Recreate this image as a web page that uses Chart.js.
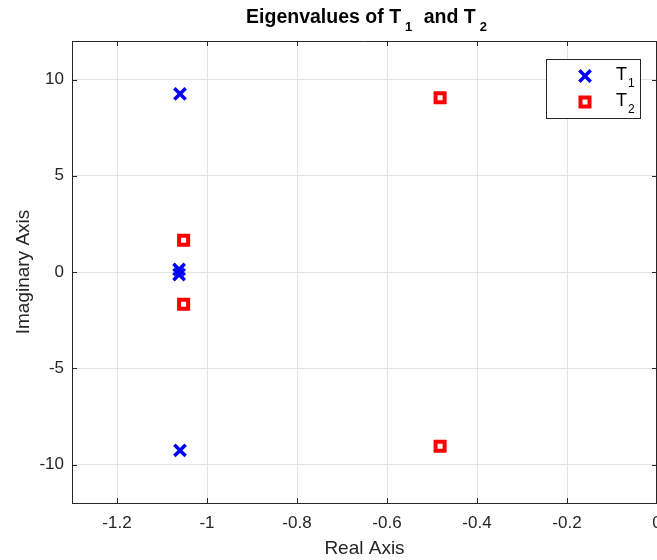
<!DOCTYPE html>
<html>
<head>
<meta charset="utf-8">
<script src="https://cdn.jsdelivr.net/npm/chart.js@4"></script>
<style>
  html, body { margin: 0; padding: 0; background: #fff; overflow: hidden; }
  #wrap { width: 680px; height: 560px; }
</style>
</head>
<body>
<div id="wrap"><canvas id="chartEig"></canvas></div>
<script>
// eigenvalues (real, imaginary)
const t1Re = [-1.06, -1.06, -1.062, -1.062];
const t1Im = [9.25, -9.27, 0.13, -0.13];
const t2Re = [-1.052, -1.052, -0.482, -0.482];
const t2Im = [1.65, -1.68, 9.05, -9.05];

const seriesNames = ['T', 'T'];
const seriesSubs = ['1', '2'];
const xTicks = [-1.2, -1, -0.8, -0.6, -0.4, -0.2, 0];
const yTicks = [-10, -5, 0, 5, 10];

const FONT = '"Liberation Sans", Arial, Helvetica, sans-serif';
const AXIS_COLOR = '#262626';

function toPoints(re, im) {
  return re.map((x, i) => ({ x: x, y: im[i] }));
}

// title, legend, box and inward ticks, MATLAB style
const matlabBox = {
  id: 'matlabBox',
  afterDraw(chart) {
    const ctx = chart.ctx;
    const a = chart.chartArea;
    const xs = chart.scales.x;
    const ys = chart.scales.y;
    ctx.save();

    // top + right border
    ctx.strokeStyle = AXIS_COLOR;
    ctx.lineWidth = 1;
    ctx.beginPath();
    ctx.moveTo(a.left, a.top + 0.5);
    ctx.lineTo(a.right, a.top + 0.5);
    ctx.moveTo(a.right - 0.5, a.top);
    ctx.lineTo(a.right - 0.5, a.bottom);
    ctx.stroke();

    // inward ticks
    const len = 5;
    ctx.beginPath();
    xTicks.forEach(v => {
      const px = Math.round(xs.getPixelForValue(v)) + 0.5;
      ctx.moveTo(px, a.bottom); ctx.lineTo(px, a.bottom - len);
      ctx.moveTo(px, a.top); ctx.lineTo(px, a.top + len);
    });
    yTicks.forEach(v => {
      const py = Math.round(ys.getPixelForValue(v)) + 0.5;
      ctx.moveTo(a.left, py); ctx.lineTo(a.left + len, py);
      ctx.moveTo(a.right, py); ctx.lineTo(a.right - len, py);
    });
    ctx.stroke();

    // title with subscripts (text, size, drop, gap after)
    const cx = (a.left + a.right) / 2 + 2;
    const parts = [
      ['Eigenvalues of T', 19.5, 0, 4],
      ['1', 13, 8, 6],
      [' and T', 19.5, 0, 4],
      ['2', 13, 8, 0]
    ];
    let w = 0;
    parts.forEach(p => {
      ctx.font = 'bold ' + p[1] + 'px ' + FONT;
      w += ctx.measureText(p[0]).width + p[3];
    });
    let x = cx - w / 2;
    ctx.fillStyle = '#000';
    ctx.textBaseline = 'alphabetic';
    ctx.textAlign = 'left';
    parts.forEach(p => {
      ctx.font = 'bold ' + p[1] + 'px ' + FONT;
      ctx.fillText(p[0], x, 23 + p[2]);
      x += ctx.measureText(p[0]).width + p[3];
    });

    // legend box
    const bx = 546, by = 59, bw = 94, bh = 59;
    ctx.fillStyle = '#fff';
    ctx.fillRect(bx, by, bw, bh);
    ctx.strokeStyle = AXIS_COLOR;
    ctx.lineWidth = 1;
    ctx.strokeRect(bx + 0.5, by + 0.5, bw, bh);
    chart.data.datasets.forEach((ds, i) => {
      const ry = by + 17 + i * 26;
      ctx.strokeStyle = ds.borderColor;
      ctx.fillStyle = ds.backgroundColor;
      ctx.lineWidth = ds.borderWidth;
      Chart.helpers.drawPoint(ctx, {
        pointStyle: ds.pointStyle,
        radius: ds.pointRadius,
        borderWidth: ds.borderWidth,
        rotation: 0
      }, 585, ry);
      ctx.fillStyle = '#000';
      ctx.font = '18px ' + FONT;
      ctx.fillText(seriesNames[i], 616, ry + 4);
      const tw = ctx.measureText(seriesNames[i]).width;
      ctx.font = '12px ' + FONT;
      ctx.fillText(seriesSubs[i], 616 + tw + 1, ry + 11);
    });
    ctx.restore();
  }
};

const chart = document.getElementById('chartEig');

new Chart(chart, {
  type: 'scatter',
  data: {
    datasets: [
      {
        label: 'T1',
        data: toPoints(t1Re, t1Im),
        pointStyle: 'crossRot',
        pointRadius: 8,
        borderWidth: 3.5,
        borderColor: '#0000ff',
        backgroundColor: '#0000ff'
      },
      {
        label: 'T2',
        data: toPoints(t2Re, t2Im),
        pointStyle: 'rect',
        pointRadius: 6.4,
        borderWidth: 4,
        borderColor: '#ff0000',
        backgroundColor: '#ffffff'
      }
    ]
  },
  options: {
    responsive: true,
    maintainAspectRatio: false,
    animation: false,
    layout: { padding: { top: 41, right: 23, left: 0, bottom: 0 } },
    plugins: {
      legend: { display: false },
      title: { display: false },
      tooltip: { enabled: false }
    },
    scales: {
      x: {
        type: 'linear',
        min: -1.3,
        max: 0,
        afterFit: s => { s.height = 57; },
        afterBuildTicks: s => { s.ticks = xTicks.map(v => ({ value: v })); },
        ticks: {
          padding: 10,
          color: '#262626',
          font: { family: FONT, size: 17 },
          callback: v => String(Math.round(v * 10) / 10)
        },
        grid: { color: '#e3e3e3', drawTicks: false },
        border: { color: AXIS_COLOR, width: 1 },
        title: {
          display: true,
          text: 'Real Axis',
          color: '#262626',
          font: { family: FONT, size: 19 },
          padding: { top: 0, bottom: 0 }
        }
      },
      y: {
        type: 'linear',
        min: -12,
        max: 12,
        afterFit: s => { s.width = 72; },
        afterBuildTicks: s => { s.ticks = yTicks.map(v => ({ value: v })); },
        ticks: {
          padding: 8,
          color: '#262626',
          font: { family: FONT, size: 17 }
        },
        grid: { color: '#e3e3e3', drawTicks: false },
        border: { color: AXIS_COLOR, width: 1 },
        title: {
          display: true,
          text: 'Imaginary Axis',
          color: '#262626',
          font: { family: FONT, size: 19 },
          padding: { top: 12, bottom: 0 }
        }
      }
    }
  },
  plugins: [matlabBox]
});
</script>
</body>
</html>
